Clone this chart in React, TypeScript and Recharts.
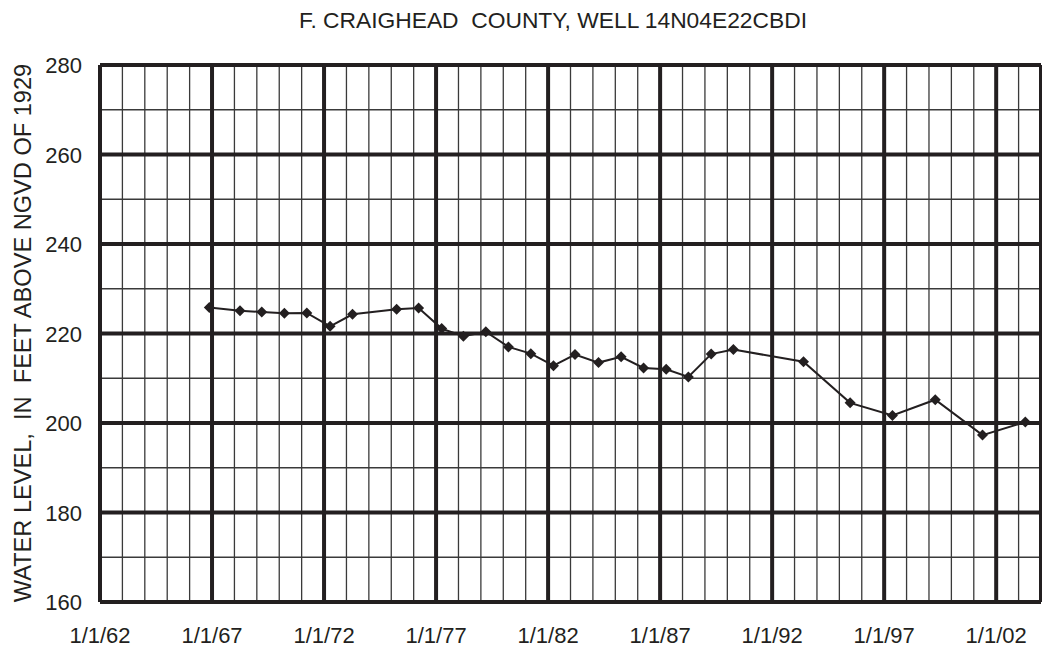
import React from "react";
import {
  LineChart,
  Line,
  XAxis,
  YAxis,
  CartesianGrid,
  ReferenceLine,
} from "recharts";

// measurement dates as decimal years, water level in ft above NGVD 1929
const measureYears = [
  1966.88, 1968.25, 1969.22, 1970.23, 1971.23, 1972.27, 1973.27, 1975.24,
  1976.22, 1977.25, 1978.22, 1979.22, 1980.23, 1981.23, 1982.24, 1983.2,
  1984.25, 1985.26, 1986.26, 1987.27, 1988.26, 1989.28, 1990.27, 1993.4,
  1995.48, 1997.37, 1999.28, 2001.39, 2003.3,
];
const waterLevels = [
  225.8, 225.1, 224.8, 224.5, 224.6, 221.6, 224.3, 225.4,
  225.7, 221.1, 219.4, 220.4, 217.0, 215.5, 212.8, 215.3,
  213.5, 214.8, 212.3, 212.0, 210.3, 215.4, 216.4, 213.7,
  204.5, 201.7, 205.2, 197.3, 200.2,
];

const yearTicks = [
  1962, 1963, 1964, 1965, 1966, 1967, 1968, 1969, 1970, 1971, 1972, 1973,
  1974, 1975, 1976, 1977, 1978, 1979, 1980, 1981, 1982, 1983, 1984, 1985,
  1986, 1987, 1988, 1989, 1990, 1991, 1992, 1993, 1994, 1995, 1996, 1997,
  1998, 1999, 2000, 2001, 2002, 2003, 2004,
];
const majorYears = [1962, 1967, 1972, 1977, 1982, 1987, 1992, 1997, 2002, 2004];
const yearLabels: Record<number, string> = {
  1962: "1/1/62",
  1967: "1/1/67",
  1972: "1/1/72",
  1977: "1/1/77",
  1982: "1/1/82",
  1987: "1/1/87",
  1992: "1/1/92",
  1997: "1/1/97",
  2002: "1/1/02",
};
const levelTicks = [160, 170, 180, 190, 200, 210, 220, 230, 240, 250, 260, 270, 280];
const majorLevels = [160, 180, 200, 220, 240, 260, 280];

const title = "F. CRAIGHEAD  COUNTY, WELL 14N04E22CBDI";
const yTitle = "WATER LEVEL,  IN  FEET ABOVE NGVD OF 1929";

const INK = "#231f20";
const FONT = "Arial, 'Liberation Sans', sans-serif";

const data = measureYears.map((yr, i) => ({ yr, level: waterLevels[i] }));

const XTick = ({ x, payload }: any) => {
  const label = yearLabels[payload.value];
  if (!label) return null;
  // baseline sits ~41px under the plot's bottom edge (602)
  return (
    <text x={x} y={643} textAnchor="middle" fontSize={22} fill={INK} fontFamily={FONT}>
      {label}
    </text>
  );
};

const YTick = ({ y, payload }: any) => {
  if (payload.value % 20 !== 0) return null;
  return (
    <text x={82} y={y + 8} textAnchor="end" fontSize={22} fill={INK} fontFamily={FONT}>
      {payload.value}
    </text>
  );
};

const Diamond = (props: any) => {
  const { cx, cy, index } = props;
  const r = 5.5;
  return (
    <polygon
      key={`d-${index}`}
      points={`${cx},${cy - r} ${cx + r},${cy} ${cx},${cy + r} ${cx - r},${cy}`}
      fill={INK}
    />
  );
};

export default function App() {
  return (
    <div style={{ position: "absolute", left: 0, top: 0, background: "#fff" }}>
      <LineChart
        width={1042}
        height={649}
        data={data}
        margin={{ top: 65, right: 1, left: 0, bottom: 0 }}
      >
        <CartesianGrid stroke="#3a3a3a" strokeWidth={1.3} />
        <XAxis
          dataKey="yr"
          type="number"
          domain={[1962, 2004]}
          ticks={yearTicks}
          interval={0}
          height={47}
          tick={<XTick />}
          tickLine={false}
          axisLine={false}
        />
        <YAxis
          type="number"
          domain={[160, 280]}
          ticks={levelTicks}
          interval={0}
          width={100}
          tick={<YTick />}
          tickLine={false}
          axisLine={false}
        />
        {majorYears.map((yr) => (
          <ReferenceLine key={`vx-${yr}`} x={yr} stroke={INK} strokeWidth={4} />
        ))}
        {majorLevels.map((lv) => (
          <ReferenceLine key={`hy-${lv}`} y={lv} stroke={INK} strokeWidth={4} />
        ))}
        <Line
          dataKey="level"
          stroke={INK}
          strokeWidth={2}
          dot={Diamond}
          activeDot={false}
          isAnimationActive={false}
        />
        <text
          x={553}
          y={28}
          textAnchor="middle"
          fontSize={22.8}
          fill={INK}
          fontFamily={FONT}
          style={{ whiteSpace: "pre" }}
        >
          {title}
        </text>
        <text
          x={0}
          y={0}
          transform="translate(31 333) rotate(-90)"
          textAnchor="middle"
          fontSize={23.6}
          fill={INK}
          fontFamily={FONT}
          style={{ whiteSpace: "pre" }}
        >
          {yTitle}
        </text>
      </LineChart>
    </div>
  );
}
